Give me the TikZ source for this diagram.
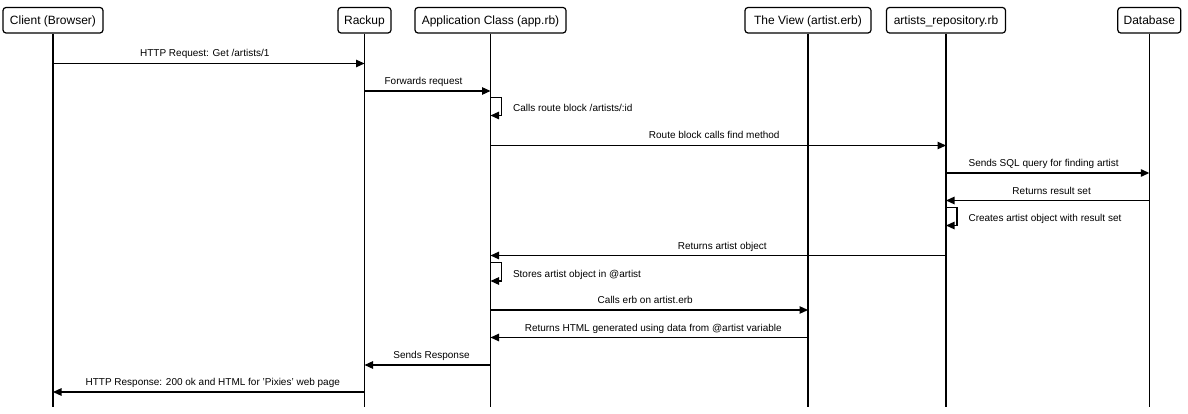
\documentclass[tikz,border=0pt]{standalone}
\usepackage{fontspec}
\setmainfont{Liberation Sans}
\usetikzlibrary{arrows.meta}
\begin{document}
\begin{tikzpicture}[x=1pt,y=-1pt,
  actor/.style={draw, line width=1.2pt, rounded corners=3pt, minimum height=25.5pt,
    inner sep=0pt, text height=8.6pt, text depth=0pt, fill=white,
    font=\fontsize{12}{14}\selectfont},
  life/.style={line width=1.2pt},
  msg/.style={line width=1.2pt, -{Triangle[length=8.5pt,width=7.5pt]}},
  lblr/.style={anchor=base, yshift=6.5pt, xshift=-4pt, font=\fontsize{10}{12}\selectfont},
  lbll/.style={anchor=base, yshift=6.5pt, xshift=4pt, font=\fontsize{10}{12}\selectfont},
  lbls/.style={anchor=base west, font=\fontsize{10}{12}\selectfont}]
\useasboundingbox (0,0) rectangle (1188,414);

% participants
\node[actor, minimum width=100pt] (client) at (53,20.25) {Client (Browser)};
\node[actor, minimum width=53pt]  (rack)   at (364.5,20.25) {Rackup};
\node[actor, minimum width=151pt] (app)    at (490.5,20.25) {Application Class (app.rb)};
\node[actor, minimum width=126pt] (view)   at (808,20.25) {The View (artist.erb)};
\node[actor, minimum width=119pt] (repo)   at (946,20.25) {artists\_repository.rb};
\node[actor, minimum width=63pt]  (db)     at (1149.3,20.25) {Database};

% bottom coordinate
\coordinate (bot) at (0,407);
\foreach \n in {client,rack,app,view,repo,db}{
  \draw[life] (\n.south) -- (\n |- bot);
}

% message rows
\coordinate (m1) at (0,63.5);
\coordinate (m2) at (0,91);
\coordinate (s3a) at (0,97.5);
\coordinate (s3b) at (0,115.5);
\coordinate (m4) at (0,145.5);
\coordinate (m5) at (0,173);
\coordinate (m6) at (0,200.5);
\coordinate (s7a) at (0,207.5);
\coordinate (s7b) at (0,225.5);
\coordinate (m8) at (0,255.5);
\coordinate (s9a) at (0,262.5);
\coordinate (s9b) at (0,281);
\coordinate (m10) at (0,310);
\coordinate (m11) at (0,337.5);
\coordinate (m12) at (0,365);
\coordinate (m13) at (0,392);

\draw[msg] (client |- m1) -- node[lblr]{HTTP Request: Get /artists/1} (rack |- m1);
\draw[msg] (rack |- m2) -- node[lblr]{Forwards request} (app |- m2);
\draw[msg] (app |- s3a) -- ++(11,0) -- ++(0,18) -- (app |- s3b);
\node[lbls] (t3) at ([xshift=19pt,yshift=4pt]app |- s3b) {Calls route block /artists/:id};
\draw[msg] (app |- m4) -- node[lblr]{Route block calls find method} (repo |- m4);
\draw[msg] (repo |- m5) -- node[lblr]{Sends SQL query for finding artist} (db |- m5);
\draw[msg] (db |- m6) -- node[lbll]{Returns result set} (repo |- m6);
\draw[msg] (repo |- s7a) -- ++(11,0) -- ++(0,18) -- (repo |- s7b);
\node[lbls] (t7) at ([xshift=19pt,yshift=4pt]repo |- s7b) {Creates artist object with result set};
\draw[msg] (repo |- m8) -- node[lbll]{Returns artist object} (app |- m8);
\draw[msg] (app |- s9a) -- ++(11,0) -- ++(0,18.5) -- (app |- s9b);
\node[lbls] (t9) at ([xshift=19pt,yshift=4pt]app |- s9b) {Stores artist object in @artist};
\draw[msg] (app |- m10) -- node[lblr]{Calls erb on artist.erb} (view |- m10);
\draw[msg] (view |- m11) -- node[lbll]{Returns HTML generated using data from @artist variable} (app |- m11);
\draw[msg] (app |- m12) -- node[lbll]{Sends Response} (rack |- m12);
\draw[msg] (rack |- m13) -- node[lbll]{HTTP Response: 200 ok and HTML for 'Pixies' web page} (client |- m13);
\end{tikzpicture}
\end{document}
